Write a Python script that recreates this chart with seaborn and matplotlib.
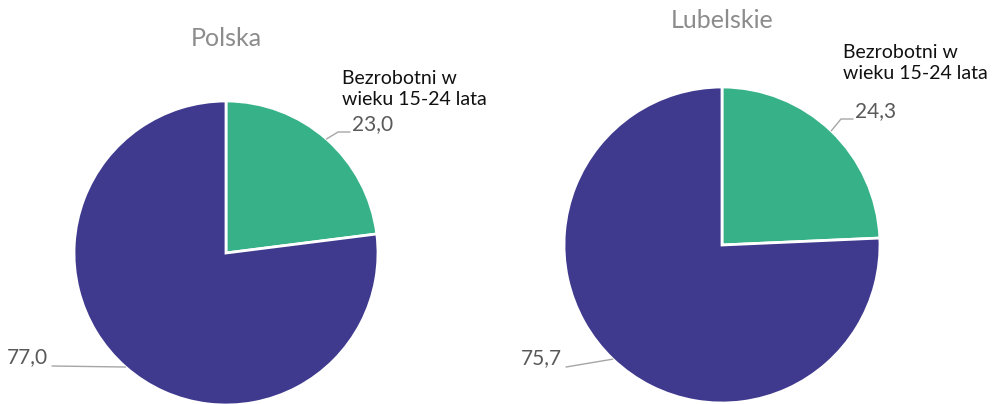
import numpy as np
import matplotlib
matplotlib.use('Agg')
import matplotlib.pyplot as plt
import seaborn as sns

# data
regions = ["Polska", "Lubelskie"]
category_label = "Bezrobotni w\nwieku 15-24 lata"
youth_share = [23.0, 24.3]
other_share = [77.0, 75.7]
value_labels = [["23,0", "77,0"], ["24,3", "75,7"]]

colors = ["#37B288", "#3F3A8E"]

W, H = 999, 404

sns.set_theme(style="white")
plt.rcParams['font.family'] = ['Lato', 'DejaVu Sans']

fig = plt.figure(figsize=(W / 100, H / 100), dpi=100)
ax = fig.add_axes([0, 0, 1, 1])


def fy(y):
    # image y (top-down) -> axes y (bottom-up)
    return H - y


# layout in pixel coordinates (image space)
centers = [(226, 253), (722, 245)]
radii = [152, 158]
title_pos = [(226, 38), (722, 20)]
cat_pos = [(342, 89), (843, 63)]
val_green_pos = [(352, 124), (855, 111)]
val_purple_pos = [(48, 357), (562, 358)]

for i, region in enumerate(regions):
    cx, cy = centers[i]
    r = radii[i]
    vals = [youth_share[i], other_share[i]]
    ax.pie(vals, colors=colors, startangle=90, counterclock=False,
           center=(cx, fy(cy)), radius=r,
           wedgeprops=dict(edgecolor="white", linewidth=2))

    ax.text(title_pos[i][0], fy(title_pos[i][1]), region, ha="center", va="center",
            fontsize=18, color="#8C8C8C")
    ax.text(cat_pos[i][0], fy(cat_pos[i][1]), category_label, ha="left", va="center",
            fontsize=14, color="#111111", linespacing=1.35)

    # leader lines from the arc midpoints
    total = sum(vals)
    a_green = np.deg2rad(90 - 360 * vals[0] / total / 2)
    a_purple = np.deg2rad(90 - 360 * (vals[0] + vals[1] / 2) / total)
    gx, gy = cx + r * np.cos(a_green), fy(cy) + r * np.sin(a_green)
    px, py = cx + r * np.cos(a_purple), fy(cy) + r * np.sin(a_purple)

    tx, ty = val_green_pos[i]
    ax.plot([gx, tx - 14, tx - 2], [gy, fy(ty + 8), fy(ty + 8)], color="#A6A6A6", lw=1)
    ax.text(tx, fy(ty), value_labels[i][0], ha="left", va="center",
            fontsize=15, color="#595959")

    tx, ty = val_purple_pos[i]
    ax.plot([tx + 4, px], [fy(ty + 9), py], color="#A6A6A6", lw=1)
    ax.text(tx, fy(ty), value_labels[i][1], ha="right", va="center",
            fontsize=15, color="#595959")

ax.set_xlim(0, W)
ax.set_ylim(0, H)
ax.set_aspect('equal')
ax.axis('off')

fig.savefig("out.png", dpi=100, facecolor="white")
plt.close(fig)
